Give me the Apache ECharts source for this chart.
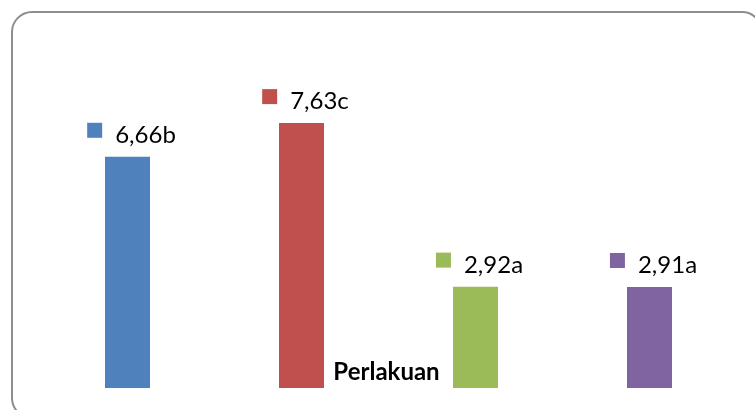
<!DOCTYPE html>
<html>
<head>
<meta charset="utf-8">
<script src="https://cdn.jsdelivr.net/npm/echarts@6/dist/echarts.min.js"></script>
<style>
  html, body { margin: 0; padding: 0; background: #fff; }
  #chart { width: 755px; height: 410px; }
</style>
</head>
<body>
<div id="chart"></div>
<script>
// treatments (no visible axis labels in the original)
const categories = ['P1', 'P2', 'P3', 'P4'];
const values = [6.66, 7.63, 2.92, 2.91];
const letters = ['b', 'c', 'a', 'a'];
const colors = ['#4f81bd', '#c0504d', '#9bbb59', '#8064a2'];
const axisTitle = 'Perlakuan';

function fmt(v, i) {
  return v.toFixed(2).replace('.', ',') + letters[i];
}

let chart = echarts.init(document.getElementById('chart'));

let option = {
  animation: false,
  graphic: [{
    type: 'rect',
    shape: {x: 12, y: 12, width: 750, height: 406, r: 20},
    style: {fill: 'none', stroke: '#8e8e8e', lineWidth: 2},
    z: -1
  }],
  grid: {left: 40.5, right: 18.5, top: 20, bottom: 22},
  xAxis: {
    type: 'category',
    data: categories,
    axisLine: {show: false},
    axisTick: {show: false},
    axisLabel: {show: false},
    name: axisTitle,
    nameLocation: 'middle',
    nameGap: -16,
    nameTextStyle: {
      fontFamily: 'Lato',
      fontWeight: 'bold',
      fontSize: 24,
      color: '#000',
      verticalAlign: 'middle',
      padding: [0, 4, 0, 0]
    }
  },
  yAxis: {
    type: 'value',
    min: 0,
    max: 10.6,
    show: false,
    splitLine: {show: false}
  },
  series: [{
    type: 'bar',
    barWidth: 45,
    data: values.map((v, i) => ({value: v, itemStyle: {color: colors[i]}})),
    label: {
      show: true,
      position: 'top',
      distance: 9,
      offset: [4, 0],
      formatter: p => '{m' + p.dataIndex + '|}{t|' + fmt(p.value, p.dataIndex) + '}',
      rich: {
        m0: {backgroundColor: colors[0], width: 15, height: 15, verticalAlign: 'top'},
        m1: {backgroundColor: colors[1], width: 15, height: 15, verticalAlign: 'top'},
        m2: {backgroundColor: colors[2], width: 15, height: 15, verticalAlign: 'top'},
        m3: {backgroundColor: colors[3], width: 15, height: 15, verticalAlign: 'top'},
        t: {fontFamily: 'Lato', fontSize: 24, color: '#000', padding: [0, 0, 0, 13], lineHeight: 25}
      }
    }
  }]
};

chart.setOption(option);
</script>
</body>
</html>
